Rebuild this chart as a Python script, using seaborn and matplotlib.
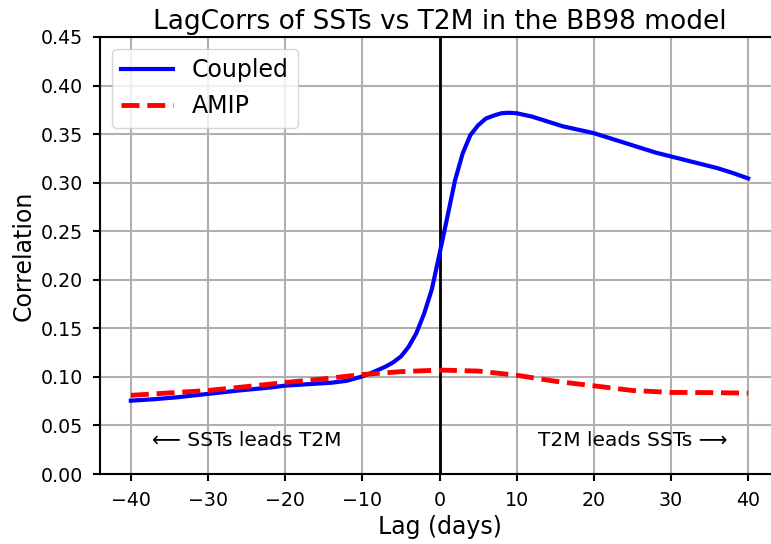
import matplotlib
matplotlib.use("Agg")
import matplotlib.pyplot as plt
import seaborn as sns
import pandas as pd

coupled_lag = [-40, -37, -34, -30, -26, -22, -20, -17, -14, -12, -10, -9, -8, -7, -6, -5, -4, -3, -2, -1,
               0, 1, 2, 3, 4, 5, 6, 7, 8, 9, 10, 12, 14, 16, 18, 20, 22, 24, 26, 28, 30, 32, 34, 36, 38, 40]
coupled_corr = [0.0755, 0.077, 0.079, 0.0825, 0.086, 0.089, 0.091, 0.0925, 0.094, 0.096, 0.1005, 0.1035,
                0.107, 0.1105, 0.115, 0.121, 0.131, 0.145, 0.165, 0.190,
                0.2265, 0.264, 0.302, 0.330, 0.349, 0.359, 0.366, 0.369, 0.3715, 0.372, 0.3715, 0.368,
                0.363, 0.358, 0.3545, 0.351, 0.346, 0.341, 0.336, 0.331, 0.327, 0.323, 0.319, 0.315,
                0.310, 0.3044]
amip_lag = [-40, -35, -30, -25, -20, -15, -10, -5, 0, 5, 10, 15, 20, 25, 30, 35, 40]
amip_corr = [0.081, 0.0835, 0.086, 0.090, 0.0942, 0.098, 0.1024, 0.1054, 0.107, 0.106, 0.1017, 0.0955,
             0.0908, 0.086, 0.084, 0.0838, 0.0833]
x_ticks = [-40, -30, -20, -10, 0, 10, 20, 30, 40]
y_ticks = [0.0, 0.05, 0.10, 0.15, 0.20, 0.25, 0.30, 0.35, 0.40, 0.45]

title = "LagCorrs of SSTs vs T2M in the BB98 model"
left_note = "\u27f5 SSTs leads T2M"
right_note = "T2M leads SSTs \u27f6"

df_c = pd.DataFrame({"Lag": coupled_lag, "Corr": coupled_corr})
df_a = pd.DataFrame({"Lag": amip_lag, "Corr": amip_corr})

fig = plt.figure(figsize=(7.71, 5.44), dpi=100)
ax = fig.add_axes([100 / 771, 1 - 474 / 544, 679 / 771, (474 - 37) / 544])

sns.lineplot(data=df_c, x="Lag", y="Corr", ax=ax, color="blue", linewidth=3, label="Coupled", zorder=3)
sns.lineplot(data=df_a, x="Lag", y="Corr", ax=ax, color="red", linewidth=3.5, linestyle="--",
             label="AMIP", zorder=3)
ax.axvline(0, color="black", linewidth=2, zorder=2)

ax.set_xlim(-44, 44)
ax.set_ylim(0, 0.45)
ax.set_xticks(x_ticks)
ax.set_yticks(y_ticks)
ax.set_yticklabels([f"{v:.2f}" for v in y_ticks])
ax.tick_params(labelsize=13.7, width=1.5, length=5, pad=7)
for s in ax.spines.values():
    s.set_linewidth(1.5)
ax.grid(True, color="#b0b0b0", linewidth=1.5)

ax.set_xlabel("Lag (days)", fontsize=17)
ax.set_ylabel("Correlation", fontsize=17)
ax.set_title(title, fontsize=19)

ax.text(-25, 0.034, left_note, ha="center", va="center", fontsize=14.5)
ax.text(25, 0.034, right_note, ha="center", va="center", fontsize=14.5)

ax.legend(loc="upper left", fontsize=17, handlelength=2.2)

fig.savefig("out.png", dpi=100)
